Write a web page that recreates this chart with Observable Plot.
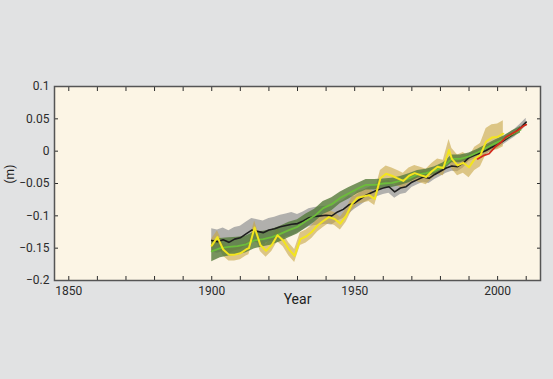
<!DOCTYPE html>
<html><head><meta charset="utf-8">
<script src="https://cdn.jsdelivr.net/npm/d3@7"></script>
<script src="https://cdn.jsdelivr.net/npm/@observablehq/plot@0.6"></script>
<style>
html,body{margin:0;padding:0;background:#e1e2e3;}
#chart{width:553px;height:379px;}
</style></head><body><div id="chart"></div>
<script>
// Tide-gauge reconstruction (black, grey band)
const blackYear = [1900,1902,1904,1906,1908,1910,1912,1914,1916,1918,1920,1922,1924,1926,1928,1930,1932,1934,1936,1938,1940,1942,1944,1946,1948,1950,1952,1954,1956,1958,1960,1962,1964,1966,1968,1970,1972,1974,1976,1978,1980,1982,1984,1986,1988,1990,1992,1994,1996,1998,2000,2002,2004,2006,2008,2010];
const blackSea = [-0.138,-0.140,-0.137,-0.141,-0.136,-0.134,-0.128,-0.122,-0.124,-0.126,-0.122,-0.120,-0.117,-0.115,-0.113,-0.112,-0.108,-0.103,-0.101,-0.100,-0.099,-0.100,-0.094,-0.090,-0.083,-0.080,-0.074,-0.068,-0.064,-0.060,-0.057,-0.055,-0.063,-0.057,-0.055,-0.048,-0.044,-0.040,-0.042,-0.036,-0.031,-0.026,-0.023,-0.024,-0.018,-0.010,-0.006,-0.003,0.001,0.006,0.010,0.016,0.022,0.028,0.036,0.045];
const blackErr = [0.018,0.018,0.018,0.018,0.018,0.018,0.018,0.018,0.018,0.018,0.018,0.018,0.018,0.018,0.018,0.014,0.014,0.014,0.014,0.014,0.014,0.014,0.014,0.014,0.014,0.010,0.010,0.010,0.010,0.010,0.010,0.010,0.010,0.010,0.010,0.008,0.008,0.008,0.008,0.008,0.008,0.008,0.008,0.008,0.008,0.006,0.006,0.006,0.006,0.006,0.006,0.006,0.006,0.006,0.006,0.006];

// Reconstruction 2 (green, dark green band)
const greenYear = [1900,1903,1906,1909,1912,1915,1918,1921,1924,1927,1930,1933,1936,1939,1942,1945,1948,1951,1954,1957,1960,1963,1966,1969,1972,1975,1978,1981,1984,1987,1990,1993,1996,1999,2002,2005,2008];
const greenSea = [-0.155,-0.150,-0.148,-0.147,-0.144,-0.138,-0.136,-0.133,-0.128,-0.122,-0.117,-0.108,-0.100,-0.088,-0.082,-0.072,-0.065,-0.058,-0.052,-0.052,-0.050,-0.049,-0.046,-0.042,-0.036,-0.034,-0.030,-0.024,-0.012,-0.012,-0.008,-0.002,0.005,0.012,0.018,0.026,0.033];
const greenErr = [0.016,0.015,0.014,0.014,0.013,0.013,0.012,0.012,0.012,0.012,0.011,0.011,0.010,0.010,0.010,0.009,0.009,0.008,0.008,0.008,0.007,0.007,0.007,0.007,0.006,0.006,0.006,0.006,0.006,0.006,0.005,0.005,0.005,0.005,0.005,0.005,0.005];

// Reconstruction 3 (yellow, tan band)
const yellowYear = [1900,1902,1904,1906,1908,1910,1912,1913,1915,1917,1919,1921,1923,1925,1927,1929,1931,1933,1935,1937,1939,1941,1943,1945,1947,1949,1951,1953,1955,1957,1959,1961,1963,1965,1967,1969,1971,1973,1975,1977,1979,1981,1983,1984,1986,1988,1990,1992,1994,1996,1998,2000,2002];
const yellowSea = [-0.146,-0.133,-0.152,-0.160,-0.160,-0.158,-0.152,-0.150,-0.118,-0.145,-0.154,-0.145,-0.130,-0.138,-0.152,-0.162,-0.136,-0.132,-0.125,-0.115,-0.108,-0.102,-0.105,-0.112,-0.100,-0.082,-0.072,-0.070,-0.068,-0.074,-0.042,-0.035,-0.038,-0.042,-0.046,-0.038,-0.034,-0.037,-0.040,-0.031,-0.024,-0.026,0.002,-0.012,-0.022,-0.018,-0.025,-0.012,-0.006,0.015,0.021,0.022,0.027];
const yellowErr = [0.010,0.010,0.010,0.010,0.010,0.010,0.010,0.010,0.010,0.010,0.010,0.010,0.010,0.010,0.010,0.010,0.010,0.010,0.010,0.010,0.010,0.010,0.010,0.010,0.010,0.010,0.010,0.010,0.010,0.010,0.012,0.012,0.012,0.012,0.012,0.012,0.012,0.012,0.012,0.012,0.012,0.012,0.016,0.016,0.016,0.016,0.016,0.018,0.018,0.020,0.020,0.020,0.020];

// Satellite altimetry (red)
const redYear = [1993,1995,1997,1999,2001,2003,2005,2007,2009,2010];
const redSea = [-0.012,-0.007,-0.004,0.006,0.013,0.022,0.027,0.032,0.039,0.041];

// Axis ticks and labels
const xTicks = [1850,1860,1870,1880,1890,1900,1910,1920,1930,1940,1950,1960,1970,1980,1990,2000,2010];
const xTickLabels = ["1850","","","","","1900","","","","","1950","","","","","2000",""];
const yTicks = [0.1,0.05,0,-0.05,-0.1,-0.15,-0.2];
const yTickLabels = ["0.1","0.05","0","\u22120.05","\u22120.1","\u22120.15","\u22120.2"];
const xTitle = "Year";
const yTitle = "(m)";

const table = (ys, vs, es) => ys.map((y, i) => ({year: y, v: vs[i], e: es ? es[i] : 0}));
const black = table(blackYear, blackSea, blackErr);
const green = table(greenYear, greenSea, greenErr);
const yellow = table(yellowYear, yellowSea, yellowErr);
const red = table(redYear, redSea);

const band = (data, fill, opacity) => Plot.areaY(data, {x: "year", y1: d => d.v - d.e, y2: d => d.v + d.e, fill, fillOpacity: opacity});
const line = (data, stroke, w) => Plot.lineY(data, {x: "year", y: "v", stroke, strokeWidth: w});

const chart = Plot.plot({
  width: 553, height: 379,
  marginLeft: 54, marginRight: 13, marginTop: 86, marginBottom: 99,
  style: {background: "#e1e2e3", fontFamily: "Roboto, 'Open Sans', sans-serif", fontSize: "12px", color: "#2b2b2b"},
  x: {domain: [1845, 2015]},
  y: {domain: [-0.2, 0.1]},
  marks: [
    Plot.frame({fill: "#fcf5e5"}),
    band(black, "#a3a3a3", 0.85),
    band(yellow, "#c6a544", 0.6),
    band(green, "#557a3b", 0.8),
    line(black, "#1e1e1e", 1.6),
    line(green, "#6cbd3a", 1.8),
    line(yellow, "#f3e51d", 2),
    line(red, "#d42a1c", 1.8),
    Plot.axisX({anchor: "bottom", ticks: xTicks, tickSize: -4, tickPadding: 10, tickFormat: (d, i) => xTickLabels[i], label: null}),
    Plot.axisX({anchor: "top", ticks: xTicks, tickSize: -4, tickFormat: () => "", label: null}),
    Plot.axisY({anchor: "left", ticks: yTicks, tickSize: -4, tickPadding: 9, tickFormat: (d, i) => yTickLabels[i], label: null}),
    Plot.axisY({anchor: "right", ticks: yTicks, tickSize: -4, tickFormat: () => "", label: null}),
    Plot.text([xTitle], {frameAnchor: "bottom", dy: 23, fontSize: 14, fill: "#1e1e1e"}),
    Plot.text([yTitle], {frameAnchor: "left", dx: -44, rotate: -90, fontSize: 12, fill: "#1e1e1e"}),
    Plot.frame({stroke: "#555", strokeWidth: 1.5})
  ]
});
document.getElementById("chart").appendChild(chart);
</script></body></html>
